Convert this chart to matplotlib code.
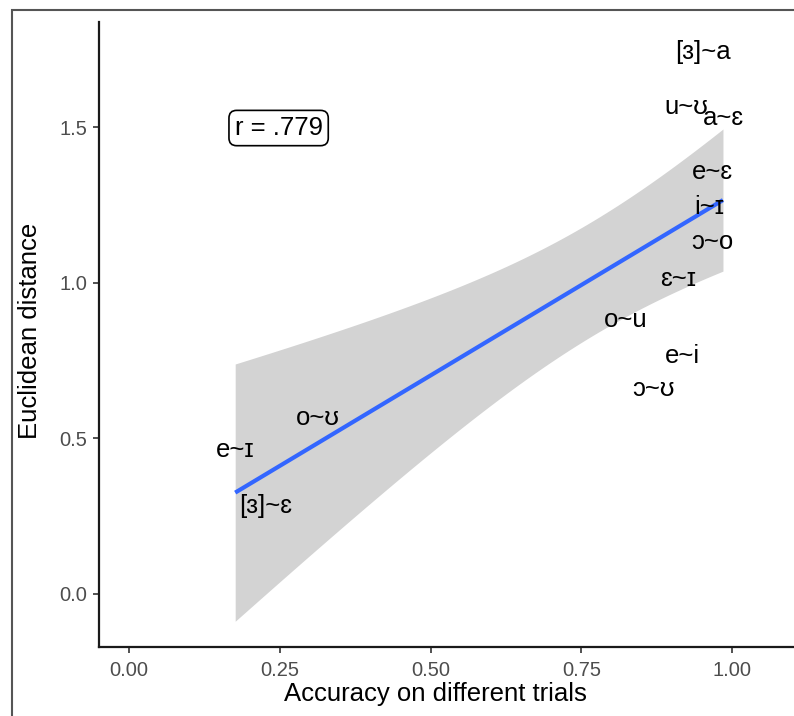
import numpy as np
import matplotlib
matplotlib.use("Agg")
import matplotlib.pyplot as plt
from matplotlib.patches import Rectangle

plt.rcParams['font.family'] = ['Liberation Sans', 'DejaVu Sans']

labels = ["[ɜ]~a", "u~ʊ", "a~ɛ", "e~ɛ", "i~ɪ", "ɔ~o", "ɛ~ɪ", "o~u", "e~i", "ɔ~ʊ", "o~ʊ", "e~ɪ", "[ɜ]~ɛ"]
accuracy = [0.952, 0.924, 0.985, 0.968, 0.962, 0.967, 0.910, 0.824, 0.917, 0.869, 0.313, 0.176, 0.226]
distance = [1.740, 1.566, 1.528, 1.354, 1.242, 1.130, 1.010, 0.881, 0.763, 0.657, 0.566, 0.462, 0.280]
r_text = "r = .779"
xticks = [0.0, 0.25, 0.5, 0.75, 1.0]
xticklabels = ["0.00", "0.25", "0.50", "0.75", "1.00"]
yticks = [0.0, 0.5, 1.0, 1.5]
yticklabels = ["0.0", "0.5", "1.0", "1.5"]

x = np.array(accuracy)
y = np.array(distance)
n = len(x)
slope, intercept = np.polyfit(x, y, 1)
xs = np.linspace(x.min(), x.max(), 80)
yhat = intercept + slope * xs
resid = y - (intercept + slope * x)
s = np.sqrt(np.sum(resid ** 2) / (n - 2))
sxx = np.sum((x - x.mean()) ** 2)
se = s * np.sqrt(1.0 / n + (xs - x.mean()) ** 2 / sxx)
tq = 2.201  # t(0.975, df=11)

W, H = 794, 716
fig = plt.figure(figsize=(W / 100, H / 100), dpi=100)
ax = fig.add_axes([98.7 / W, 1 - 647 / H, 1 - 98.7 / W, (647 - 22) / H])

ax.fill_between(xs, yhat - tq * se, yhat + tq * se, color="#d3d3d3", linewidth=0, zorder=1)
ax.plot(xs, yhat, color="#3366FF", linewidth=3.0, zorder=2, solid_capstyle="butt")

for lab, xi, yi in zip(labels, accuracy, distance):
    ax.text(xi, yi, lab, ha="center", va="center", fontsize=18.5, color="black", zorder=3)

ax.text(0.248, 1.497, r_text, ha="center", va="center", fontsize=18.5, color="black", zorder=4,
        bbox=dict(boxstyle="round,pad=0.22,rounding_size=0.3", facecolor="white", edgecolor="black", linewidth=1.2))

ax.set_xlim(-0.0504, (W - 129) / 603)
ax.set_ylim(-0.172, 1.838)
ax.set_xticks(xticks)
ax.set_xticklabels(xticklabels)
ax.set_yticks(yticks)
ax.set_yticklabels(yticklabels)
ax.tick_params(axis="both", colors="#333333", labelcolor="#4D4D4D", labelsize=14.5, length=4, width=1.2)
ax.tick_params(axis="x", pad=6)
ax.tick_params(axis="y", pad=4)

for side in ["top", "right"]:
    ax.spines[side].set_visible(False)
for side in ["left", "bottom"]:
    ax.spines[side].set_linewidth(1.6)
    ax.spines[side].set_color("#1a1a1a")

ax.set_xlabel("Accuracy on different trials", fontsize=18.5, color="black")
ax.set_ylabel("Euclidean distance", fontsize=18.5, color="black")
# place axis titles at the reference pixel positions
ax_w = W - 98.7
ax_h = 647 - 22
ax.xaxis.set_label_coords((435 - 98.7) / ax_w, -(694 - 647) / ax_h)
ax.xaxis.label.set_va("center")
ax.yaxis.set_label_coords(-(98.7 - 30) / ax_w, (647 - 331) / ax_h)
ax.yaxis.label.set_va("center")

frame = Rectangle((12 / W, -0.05), 1.2, 1 - 10 / H + 0.05, transform=fig.transFigure,
                  fill=False, edgecolor="#555555", linewidth=1.5, clip_on=False)
fig.add_artist(frame)

fig.savefig("out.png", dpi=100)
